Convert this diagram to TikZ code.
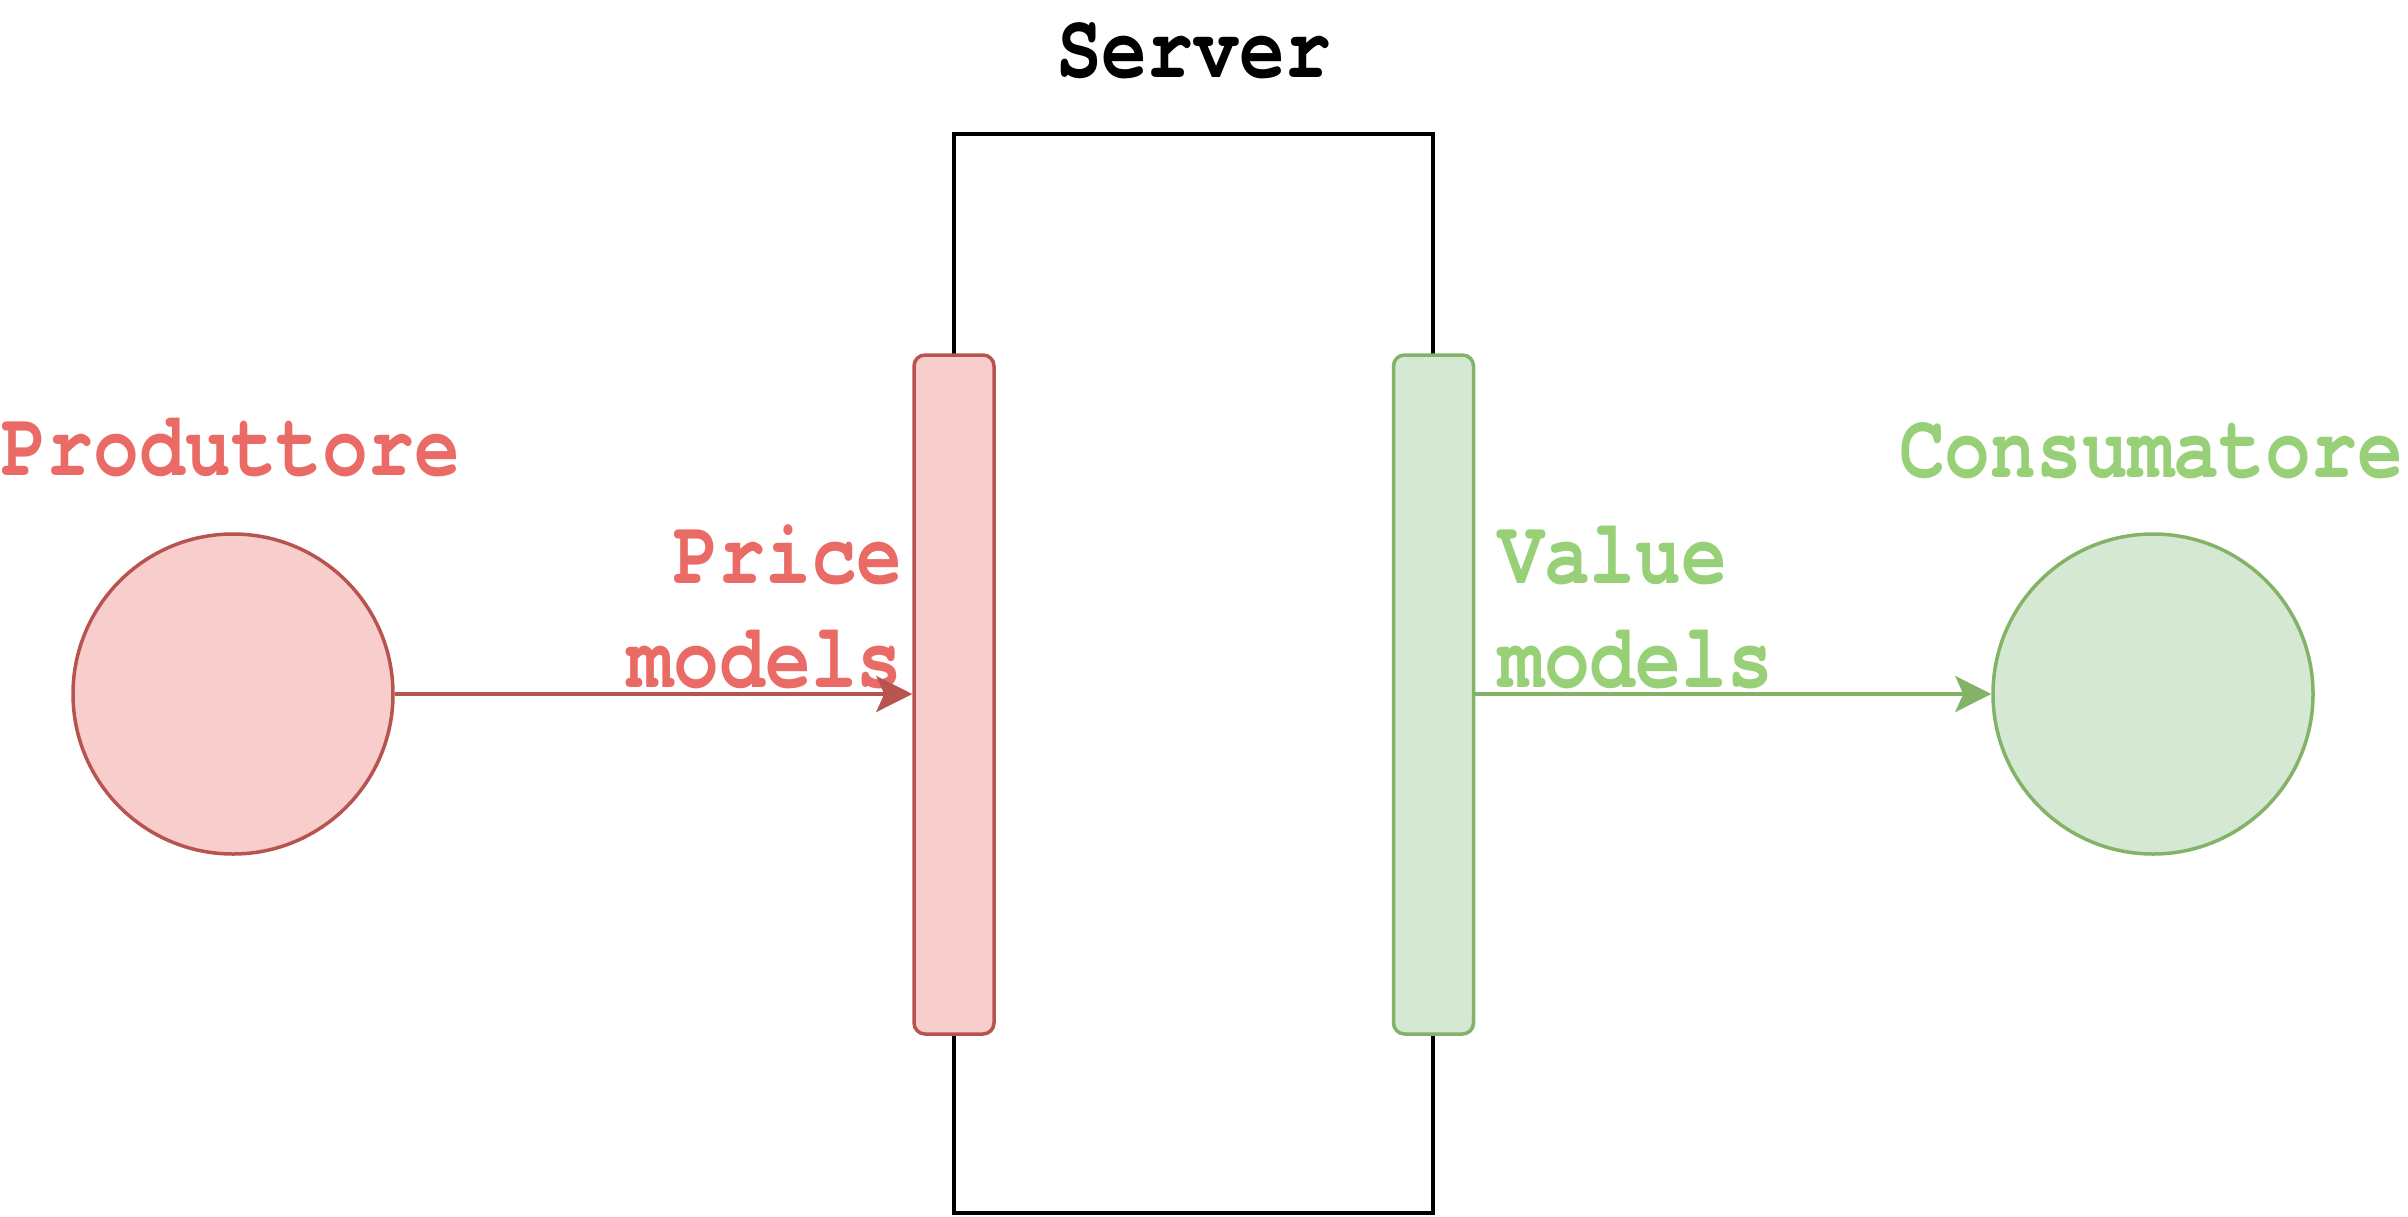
\documentclass[tikz,border=0pt]{standalone}
\usepackage{fontspec}
\usetikzlibrary{arrows.meta}
\newfontfamily\labfont[FakeStretch=0.83]{TeX Gyre Cursor}
\definecolor{redfill}{HTML}{F8CECC}
\definecolor{redline}{HTML}{B85450}
\definecolor{redtext}{HTML}{EA6B66}
\definecolor{greenfill}{HTML}{D5E8D4}
\definecolor{greenline}{HTML}{82B366}
\definecolor{greentext}{HTML}{97D077}
\tikzset{
  lab/.style={font=\labfont\bfseries\fontsize{92}{104}\selectfont, inner sep=0pt, align=center},
  actor/.style={circle, inner sep=0pt, minimum size=320pt, line width=3.5pt},
  port/.style={rectangle, rounded corners=11pt, inner sep=0pt, minimum width=80pt, minimum height=679pt, line width=3.5pt},
  flow/.style={line width=3.5pt, -{Stealth[length=36pt, width=36pt, inset=8pt]}},
}
\begin{document}
\begin{tikzpicture}[x=1pt, y=-1pt]
\useasboundingbox (0,0) rectangle (2408,1216);
\node[draw=black, line width=4pt, minimum width=479pt, minimum height=1079pt, inner sep=0pt] (server) at (1193.5,673.5) {};
\node[lab, anchor=base] (servertxt) at (1193.5,77) {Server};
\node[port, draw=redline, fill=redfill] (pbar) at (954,694.5) {};
\node[port, draw=greenline, fill=greenfill] (cbar) at (1433.5,694.5) {};
\node[actor, draw=redline, fill=redfill] (prod) at (233,694) {};
\node[actor, draw=greenline, fill=greenfill] (cons) at (2153,694) {};
\node[lab, text=redtext, anchor=base] (prodtxt) at (231,475) {Produttore};
\node[lab, text=greentext, anchor=base] (constxt) at (2151,477) {Consumatore};
\node[lab, text=redtext, anchor=base east, align=right] (price) at (903,687) {Price\\models};
\node[lab, text=greentext, anchor=base west, align=left] (value) at (1498,687) {Value\\models};
\draw[flow, redline] (prod.east) -- (prod.east -| pbar.west);
\draw[flow, greenline] (cbar.east |- cons.west) -- (cons.west);
\end{tikzpicture}
\end{document}
